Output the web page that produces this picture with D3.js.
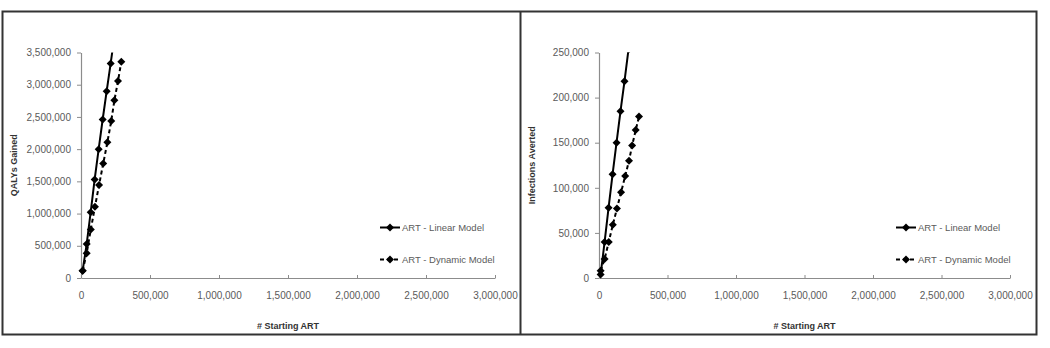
<!DOCTYPE html>
<html>
<head>
<meta charset="utf-8">
<script src="https://cdn.jsdelivr.net/npm/d3@7"></script>
<style>
  body { margin: 0; background: #fff; }
  svg { display: block; font-family: "Liberation Sans", Arial, sans-serif; }
  .axis path, .axis line { stroke: #8c8c8c; }
  .axis text { fill: #5a5a5a; font-size: 10px; }
  .title { font-weight: bold; font-size: 9px; fill: #333; }
  .legend text { font-size: 9.5px; fill: #5a5a5a; }
</style>
</head>
<body>
<svg id="chart" width="1050" height="348"></svg>
<script>
// # starting ART (x values shared by both panels)
var startsLinear = [12000, 41000, 70000, 99000, 128000, 157000, 186000, 215000, 244000];
var startsDynamic = [12000, 41000, 71000, 101000, 131000, 161000, 191000, 219000, 242000, 268000, 292000];

// QALYs gained
var qalyLinear = [113000, 527000, 1020000, 1530000, 2000000, 2460000, 2900000, 3330000, 3780000];
var qalyDynamic = [113000, 383000, 754000, 1104000, 1445000, 1776000, 2106000, 2436000, 2757000, 3056000, 3356000];

// infections averted
var infLinear = [4000, 40000, 78000, 115000, 150000, 185000, 218000, 253000];
var infDynamic = [8000, 21000, 40000, 59000, 77000, 95000, 113000, 130000, 147000, 164000, 179000];

var xTicks = [0, 500000, 1000000, 1500000, 2000000, 2500000, 3000000];
var qalyTicks = [0, 500000, 1000000, 1500000, 2000000, 2500000, 3000000, 3500000];
var infTicks = [0, 50000, 100000, 150000, 200000, 250000];
var seriesNames = ["ART - Linear Model", "ART - Dynamic Model"];

var svg = d3.select("#chart");
var fmt = d3.format(",");

// outer frames
svg.append("rect").attr("x", 2.5).attr("y", 11.5).attr("width", 1034).attr("height", 323)
    .attr("fill", "none").attr("stroke", "#333").attr("stroke-width", 2);
svg.append("line").attr("x1", 520.5).attr("x2", 520.5).attr("y1", 11.5).attr("y2", 334.5)
    .attr("stroke", "#333").attr("stroke-width", 2);

function drawPanel(id, left, right, yMax, yTicks, yLabel, yLabelX, yLin, yDyn, legendX) {
    var top = 52.5, bottom = 278;

    var x = d3.scaleLinear().domain([0, 3000000]).range([left, right]);
    var y = d3.scaleLinear().domain([0, yMax]).range([bottom, top]);

    var g = svg.append("g");

    g.append("clipPath").attr("id", id)
        .append("rect").attr("x", left - 6).attr("y", top).attr("width", right - left + 12).attr("height", bottom - top + 6);

    g.append("g")
        .attr("class", "axis")
        .attr("transform", "translate(0," + bottom + ")")
        .call(d3.axisBottom(x).tickValues(xTicks).tickFormat(fmt).tickSizeInner(-3).tickSizeOuter(0).tickPadding(14));

    g.append("g")
        .attr("class", "axis")
        .attr("transform", "translate(" + left + ",0)")
        .call(d3.axisLeft(y).tickValues(yTicks).tickFormat(fmt).tickSizeInner(4).tickSizeOuter(0).tickPadding(6));

    g.selectAll(".axis .domain").attr("stroke-width", 1.2);

    // axis titles
    g.append("text").attr("class", "title")
        .attr("x", (left + right) / 2).attr("y", 329)
        .attr("text-anchor", "middle")
        .text("# Starting ART");

    g.append("text").attr("class", "title")
        .attr("transform", "translate(" + yLabelX + "," + ((top + bottom) / 2) + ") rotate(-90)")
        .attr("text-anchor", "middle")
        .attr("dy", "0.35em")
        .text(yLabel);

    var lin = d3.zip(startsLinear, yLin);
    var dyn = d3.zip(startsDynamic, yDyn);

    var line = d3.line().x(function (d) { return x(d[0]); }).y(function (d) { return y(d[1]); });
    var diamond = d3.symbol().type(d3.symbolSquare).size(32);

    var plot = g.append("g").attr("clip-path", "url(#" + id + ")");

    [[lin, null], [dyn, "4,3"]].forEach(function (s) {
        plot.append("path")
            .datum(s[0])
            .attr("fill", "none")
            .attr("stroke", "#000")
            .attr("stroke-width", 2)
            .attr("stroke-dasharray", s[1])
            .attr("d", line);

        plot.selectAll(null)
            .data(s[0])
            .enter().append("path")
            .attr("d", diamond)
            .attr("fill", "#000")
            .attr("transform", function (d) { return "translate(" + x(d[0]) + "," + y(d[1]) + ") rotate(45)"; });
    });

    // legend
    var legend = g.append("g").attr("class", "legend");
    seriesNames.forEach(function (name, i) {
        var ly = 227.5 + i * 32;
        legend.append("line")
            .attr("x1", legendX).attr("x2", legendX + 20)
            .attr("y1", ly).attr("y2", ly)
            .attr("stroke", "#000").attr("stroke-width", 2)
            .attr("stroke-dasharray", i ? "4,3" : null);
        legend.append("path")
            .attr("d", diamond)
            .attr("fill", "#000")
            .attr("transform", "translate(" + (legendX + 10) + "," + ly + ") rotate(45)");
        legend.append("text")
            .attr("x", legendX + 22).attr("y", ly)
            .attr("dy", "0.35em")
            .text(name);
    });
}

drawPanel("clipL", 81, 495, 3500000, qalyTicks, "QALYs Gained", 14, qalyLinear, qalyDynamic, 380);
drawPanel("clipR", 599, 1010, 250000, infTicks, "Infections Averted", 532, infLinear, infDynamic, 896);
</script>
</body>
</html>
